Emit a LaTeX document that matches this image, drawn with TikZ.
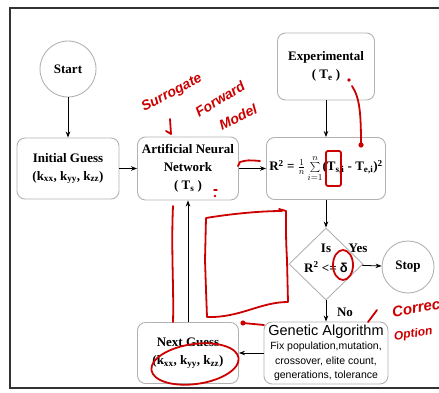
\documentclass[tikz,border=0pt]{standalone}
\usepackage{fontspec}
\setmainfont{Liberation Serif}
\newfontfamily\arialfont{Liberation Sans}
\usetikzlibrary{shapes.geometric,arrows.meta}
\tikzset{
	box/.style={draw=gray!60,line width=0.9pt,rounded corners=8pt,align=center,inner sep=0pt,font=\bfseries\fontsize{13}{18}\selectfont},
	term/.style={draw=gray!60,line width=0.9pt,circle,inner sep=0pt,font=\bfseries\fontsize{13}{16}\selectfont},
	flow/.style={-{Stealth[length=6pt,width=4.5pt]},line width=0.8pt},
	ink/.style={draw=red!80!black,line width=1.8pt,line cap=round,line join=round},
	scrawl/.style={text=red!80!black,inner sep=0pt,font=\arialfont\bfseries\itshape\fontsize{14}{14}\selectfont}
}
\begin{document}
\begin{tikzpicture}[x=1pt,y=-1pt]
		\useasboundingbox(0,0)rectangle(439,393);
		\draw[gray!40!black,line width=1.6pt](439,8)--(10,8)--(10,388)--(439,388);
		\node[term,minimum size=56pt](start)at(68,69){Start};
		\node[box,minimum width=102pt,minimum height=61pt](init)at(68,168.5){Initial Guess\\(k\textsubscript{xx}, k\textsubscript{yy}, k\textsubscript{zz})};
		\node[box,minimum width=101pt,minimum height=63pt](ann)at(188,168.5){Artificial Neural\\Network\\( T\textsubscript{s} )};
		\node[box,minimum width=97pt,minimum height=67pt](expt)at(326,66.5){Experimental\\( T\textsubscript{e} )};
		\node[box,minimum width=119pt,minimum height=62pt](rsq)at(326,168.5){R\textsuperscript{2} = $\frac{1}{n}\sum\limits_{i=1}^{n}$(T\textsubscript{s,i} - T\textsubscript{e,i})\textsuperscript{2}};
		\node[draw=gray!60,line width=0.9pt,diamond,minimum width=74pt,minimum height=72pt,inner sep=0pt](test)at(326,264){};
		\node[align=center,font=\bfseries\fontsize{13}{20}\selectfont](cond)at(326,258){Is\\R\textsuperscript{2} <= {\arialfont δ}};
		\node[term,minimum size=52pt](stop)at(408,267){Stop};
		\node[font=\bfseries\fontsize{13}{16}\selectfont](yes)at(358,248){Yes};
		\node[font=\bfseries\fontsize{13}{16}\selectfont](no)at(345,312){No};
		\node[box,minimum width=124pt,minimum height=62pt,font=\arialfont\fontsize{10.5}{14.5}\selectfont](ga)at(326,353){{\fontsize{14.5}{17}\selectfont Genetic Algorithm}\\Fix population,mutation,\\crossover, elite count,\\generations, tolerance};
		\node[box,minimum width=101pt,minimum height=61pt](next)at(188,353){Next Guess\\(k\textsubscript{xx}, k\textsubscript{yy}, k\textsubscript{zz})};
		\draw[flow](start)--(init);
		\draw[flow](init)--(ann);
		\draw[flow](ann)--(rsq);
		\draw[flow](expt)--(rsq);
		\draw[flow](rsq)--(test);
		\draw[flow](test)--(stop);
		\draw[flow](test)--(ga);
		\draw[flow](ga)--(next);
		\draw[flow](next)--(ann);
		\node[scrawl,rotate=28](sur)at(172,93){Surrogate};
		\node[scrawl,rotate=32](fwd)at(220,99){Forward};
		\node[scrawl,rotate=26](mdl)at(238,117){Model};
		\node[scrawl,rotate=10,anchor=west,font=\arialfont\bfseries\itshape\fontsize{15}{15}\selectfont](corr)at(392,312){Correction};
		\node[scrawl,rotate=8,anchor=west,font=\arialfont\bfseries\itshape\fontsize{12}{12}\selectfont](opt)at(394,337){Option};
		\draw[ink](170,119)--(171,134)--(166,131);
		\fill[red!80!black](349,80)circle(1.8pt);
		\draw[ink](352,86)..controls(360,98)and(361,115)..(361,145);
		\fill[red!80!black](361,145)circle(2.6pt);
		\draw[ink,rounded corners=2pt](326,151)rectangle(341,186);
		\draw[ink](238,166)--(240,162)..controls(248,160)..(260,161);
		\draw[ink,line width=1.4pt](214,190)--(217,190);
		\fill[red!80!black](215,196)circle(1.3pt);
		\draw[ink](173,206)..controls(171,250)and(174,290)..(173,322);
		\draw[ink](282,211)..controls(260,211)and(230,214)..(206,218)--(205,260)..controls(206,290)..(207,317)..controls(240,318)and(260,302)..(288,302)--(287,260)..controls(286,240)..(286,211)--(279,209);
		\draw[ink](243,323)--(264,325);
		\fill[red!80!black](243,323)circle(2.6pt);
		\draw[ink](195,364)ellipse[x radius=44pt,y radius=20pt,rotate=8];
		\draw[ink](343,265)ellipse[x radius=10pt,y radius=15pt];
		\draw[ink](368,322)--(377,310);
	\end{tikzpicture}
\end{document}
